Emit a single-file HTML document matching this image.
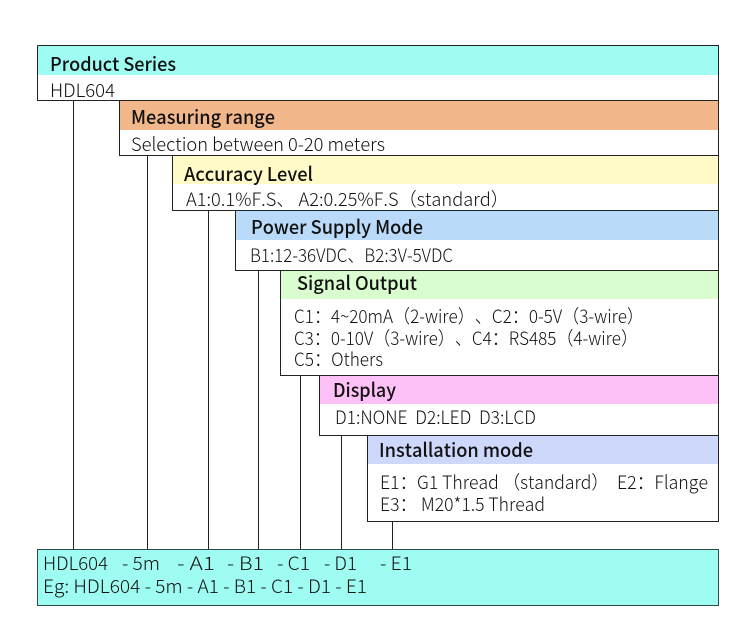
<!DOCTYPE html>
<html><head><meta charset="utf-8"><style>
html,body{margin:0;padding:0;background:#fff}
svg{display:block}
text{font-family:"Noto Sans CJK SC","Liberation Sans",sans-serif;fill:#111;font-size:18.5px;font-weight:300;text-spacing-trim:space-all;font-kerning:none}
.h{font-weight:500;font-size:19px;fill:#111}
</style></head><body>
<svg width="750" height="634" viewBox="0 0 750 634" xmlns="http://www.w3.org/2000/svg">
<rect x="38" y="46" width="680" height="29" fill="#9ffcf2"/>
<rect x="120" y="101" width="598" height="29" fill="#f3b78c"/>
<rect x="173" y="156" width="545" height="28" fill="#fffac8"/>
<rect x="236" y="211" width="482" height="29" fill="#b9daf8"/>
<rect x="281" y="271" width="437" height="28" fill="#d9fdce"/>
<rect x="320" y="376" width="398" height="28" fill="#fdc0f7"/>
<rect x="368" y="436" width="350" height="28" fill="#cdd8fa"/>
<rect x="38" y="549.500" width="680" height="56" fill="#9ffcf2"/>
<g fill="none" stroke="#222" stroke-width="1">
<path d="M37.500 45.500H718.500V521.500H367.500V435.500M37.500 45.500V100.500H718.500M119.500 100.500V155.500H718.500M172.500 155.500V210.500H718.500M235.500 210.500V270.500H718.500M280.500 270.500V375.500H718.500M319.500 375.500V435.500H718.500"/>
<path d="M73.500 100.500V549M147.500 155.500V549M208.500 210.500V549M258.500 270.500V549M300.500 375.500V549M341.500 435.500V549M392.500 521.500V549"/>
<rect x="37.500" y="549.500" width="681" height="56" stroke="#2d4a48"/>
</g>
<text class="h" x="50" y="71" textLength="126" lengthAdjust="spacingAndGlyphs">Product Series</text>
<text x="50" y="97" textLength="65" lengthAdjust="spacingAndGlyphs">HDL604</text>
<text class="h" x="131" y="124" textLength="144" lengthAdjust="spacingAndGlyphs">Measuring range</text>
<text x="131" y="151" textLength="254" lengthAdjust="spacingAndGlyphs">Selection between 0-20 meters</text>
<text class="h" x="184" y="181" textLength="129" lengthAdjust="spacingAndGlyphs">Accuracy Level</text>
<text x="186" y="206" textLength="323" lengthAdjust="spacingAndGlyphs">A1:0.1%F.S、 A2:0.25%F.S（standard）</text>
<text class="h" x="251" y="234" textLength="172" lengthAdjust="spacingAndGlyphs">Power Supply Mode</text>
<text x="250" y="262" textLength="203" lengthAdjust="spacingAndGlyphs">B1:12-36VDC、B2:3V-5VDC</text>
<text class="h" x="297" y="290" textLength="120" lengthAdjust="spacingAndGlyphs">Signal Output</text>
<text x="294" y="323" textLength="350" lengthAdjust="spacingAndGlyphs">C1：4~20mA（2-wire）、C2：0-5V（3-wire）</text>
<text x="294" y="345" textLength="344" lengthAdjust="spacingAndGlyphs">C3：0-10V（3-wire）、C4：RS485（4-wire）</text>
<text x="294" y="366" textLength="89" lengthAdjust="spacingAndGlyphs">C5：Others</text>
<text class="h" x="333" y="397" textLength="63" lengthAdjust="spacingAndGlyphs">Display</text>
<text x="335" y="424" textLength="201" lengthAdjust="spacingAndGlyphs" xml:space="preserve">D1:NONE  D2:LED  D3:LCD</text>
<text class="h" x="379" y="457" textLength="154" lengthAdjust="spacingAndGlyphs">Installation mode</text>
<text x="380" y="489" textLength="229" lengthAdjust="spacingAndGlyphs">E1：G1 Thread （standard）</text>
<text x="617" y="489" textLength="91" lengthAdjust="spacingAndGlyphs">E2：Flange</text>
<text x="380" y="511" textLength="165" lengthAdjust="spacingAndGlyphs">E3： M20*1.5 Thread</text>
<text x="43" y="570" textLength="65" lengthAdjust="spacingAndGlyphs">HDL604</text>
<text x="122" y="570" textLength="38" lengthAdjust="spacingAndGlyphs">- 5m</text>
<text x="177" y="570" textLength="38" lengthAdjust="spacingAndGlyphs">- A1</text>
<text x="227" y="570" textLength="37" lengthAdjust="spacingAndGlyphs">- B1</text>
<text x="277" y="570" textLength="33" lengthAdjust="spacingAndGlyphs">- C1</text>
<text x="324" y="570" textLength="33" lengthAdjust="spacingAndGlyphs">- D1</text>
<text x="380" y="570" textLength="32" lengthAdjust="spacingAndGlyphs">- E1</text>
<text x="43" y="593" textLength="324" lengthAdjust="spacingAndGlyphs">Eg: HDL604 - 5m - A1 - B1 - C1 - D1 - E1</text>
</svg>
</body></html>
